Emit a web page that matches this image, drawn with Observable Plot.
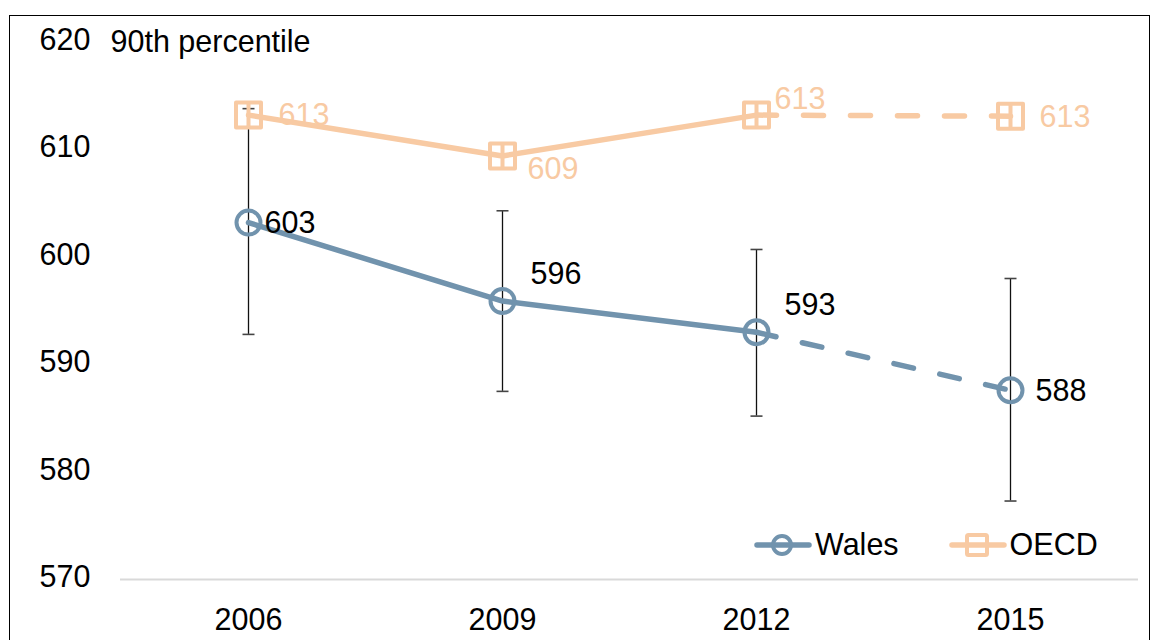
<!DOCTYPE html>
<html>
<head>
<meta charset="utf-8">
<script src="https://cdn.jsdelivr.net/npm/d3@7"></script>
<script src="https://cdn.jsdelivr.net/npm/@observablehq/plot@0.6"></script>
<style>
  html, body { margin: 0; padding: 0; background: #fff; }
  body { width: 1162px; height: 640px; position: relative; overflow: hidden; font-family: "Liberation Sans", Arial, sans-serif; }
  #frame { position: absolute; left: 9px; top: 15px; width: 1141px; height: 700px; border: 1.5px solid #000; box-sizing: border-box; pointer-events: none; }
  #chart { position: absolute; left: 0; top: 0; }
  #legend { position: absolute; left: 754px; top: 527px; display: flex; align-items: center; font-size: 30.5px; color: #000; }
  #legend .item { display: flex; align-items: center; margin-right: 50px; }
  #legend svg { display: block; margin-right: 3px; }
</style>
</head>
<body>
<div id="chart"></div>
<div id="frame"></div>
<div id="legend"></div>
<script>
const years = ["2006", "2009", "2012", "2015"];
const walesScore = [603.2, 595.9, 593.0, 587.6];
const walesLow = [592.8, 587.5, 585.2, 577.3];
const walesHigh = [613.8, 604.3, 600.7, 598.0];
const walesLabel = ["603", "596", "593", "588"];
const oecdScore = [613.2, 609.4, 613.2, 613.1];
const oecdLabel = ["613", "609", "613", "613"];
const yTicks = [570, 580, 590, 600, 610, 620];
const yTitle = "90th percentile";
const seriesNames = ["Wales", "OECD"];

const walesColor = "#7193ad";
const oecdColor = "#f8caa3";
const fontSize = 30.5;

const wales = years.map((y, i) => ({year: y, v: walesScore[i], lo: walesLow[i], hi: walesHigh[i], label: walesLabel[i], i}));
const oecd = years.map((y, i) => ({year: y, v: oecdScore[i], label: oecdLabel[i], i}));

const circleSym = {draw(ctx, size) { const r = 12; ctx.moveTo(r, 0); ctx.arc(0, 0, r, 0, 2 * Math.PI); }};
const squareSym = {draw(ctx, size) {
  const h = 12.5;
  ctx.moveTo(-h, -h); ctx.lineTo(h, -h); ctx.lineTo(h, h); ctx.lineTo(-h, h); ctx.closePath();
  ctx.moveTo(0, -h); ctx.lineTo(0, h);
}};
const capSym = {draw(ctx, size) { ctx.moveTo(-6, 0); ctx.lineTo(6, 0); }};

const solid = d => d.i <= 2;
const dashed = d => d.i >= 2;

const plot = Plot.plot({
  width: 1162,
  height: 640,
  marginLeft: 120,
  marginRight: 24,
  marginTop: 41.5,
  marginBottom: 61,
  style: {fontFamily: "'Liberation Sans', Arial, sans-serif", fontSize: fontSize + "px", color: "#000", background: "transparent"},
  x: {type: "point", domain: years, padding: 0.5, label: null},
  y: {domain: [570, 620], label: null},
  marks: [
    Plot.axisY({ticks: yTicks, tickSize: 0, tickPadding: 30, fontSize, label: null, tickFormat: d => String(d), dy: -2}),
    Plot.axisX({tickSize: 0, tickPadding: 29, fontSize, label: null}),
    Plot.ruleY([570], {stroke: "#d9d9d9", strokeWidth: 2}),
    Plot.text([yTitle], {frameAnchor: "top-left", dx: -10, lineAnchor: "middle", textAnchor: "start", fontSize, fill: "#000"}),
    // error bars
    Plot.ruleX(wales, {x: "year", y1: "lo", y2: "hi", stroke: "#111", strokeWidth: 1.3}),
    Plot.dot(wales, {x: "year", y: "lo", symbol: capSym, stroke: "#444", strokeWidth: 1.6, fill: "none"}),
    Plot.dot(wales, {x: "year", y: "hi", symbol: capSym, stroke: "#444", strokeWidth: 1.6, fill: "none"}),
    // OECD
    Plot.line(oecd.filter(solid), {x: "year", y: "v", stroke: oecdColor, strokeWidth: 5.5, strokeLinecap: "round"}),
    Plot.line(oecd.filter(dashed), {x: "year", y: "v", stroke: oecdColor, strokeWidth: 5.5, strokeLinecap: "round", strokeDasharray: "20,27"}),
    Plot.dot(oecd, {x: "year", y: "v", symbol: squareSym, stroke: oecdColor, strokeWidth: 4, fill: "none", strokeLinejoin: "round"}),
    // Wales
    Plot.line(wales.filter(solid), {x: "year", y: "v", stroke: walesColor, strokeWidth: 5.5, strokeLinecap: "round"}),
    Plot.line(wales.filter(dashed), {x: "year", y: "v", stroke: walesColor, strokeWidth: 5.5, strokeLinecap: "round", strokeDasharray: "20,27"}),
    Plot.dot(wales, {x: "year", y: "v", symbol: circleSym, stroke: walesColor, strokeWidth: 4, fill: "none"}),
    // Wales labels
    Plot.text(wales.filter(d => d.i === 0), {x: "year", y: "v", text: "label", dx: 16, dy: 1, textAnchor: "start", lineAnchor: "middle", fontSize, fill: "#000"}),
    Plot.text(wales.filter(d => d.i === 1 || d.i === 2), {x: "year", y: "v", text: "label", dx: 28, dy: -27, textAnchor: "start", lineAnchor: "middle", fontSize, fill: "#000"}),
    Plot.text(wales.filter(d => d.i === 3), {x: "year", y: "v", text: "label", dx: 25, dy: 1, textAnchor: "start", lineAnchor: "middle", fontSize, fill: "#000"}),
    // OECD labels
    Plot.text(oecd.filter(d => d.i === 0), {x: "year", y: "v", text: "label", dx: 30, dy: 0, textAnchor: "start", lineAnchor: "middle", fontSize, fill: oecdColor}),
    Plot.text(oecd.filter(d => d.i === 1), {x: "year", y: "v", text: "label", dx: 25, dy: 13, textAnchor: "start", lineAnchor: "middle", fontSize, fill: oecdColor}),
    Plot.text(oecd.filter(d => d.i === 2), {x: "year", y: "v", text: "label", dx: 18, dy: -16, textAnchor: "start", lineAnchor: "middle", fontSize, fill: oecdColor}),
    Plot.text(oecd.filter(d => d.i === 3), {x: "year", y: "v", text: "label", dx: 29, dy: 1, textAnchor: "start", lineAnchor: "middle", fontSize, fill: oecdColor})
  ]
});
document.getElementById("chart").appendChild(plot);

// legend
const legend = document.getElementById("legend");
const swatch = (name) => {
  const c = name === "Wales" ? walesColor : oecdColor;
  const marker = name === "Wales"
    ? `<circle cx="28" cy="16" r="9" fill="none" stroke="${c}" stroke-width="4"/>`
    : `<rect x="18" y="6" width="20" height="20" rx="1.5" fill="none" stroke="${c}" stroke-width="4"/>`;
  return `<div class="item"><svg width="58" height="32" viewBox="0 0 58 32"><line x1="3" y1="16" x2="55" y2="16" stroke="${c}" stroke-width="5.5" stroke-linecap="round"/>${marker}</svg><span>${name}</span></div>`;
};
legend.innerHTML = seriesNames.map(swatch).join("");
</script>
</body>
</html>
